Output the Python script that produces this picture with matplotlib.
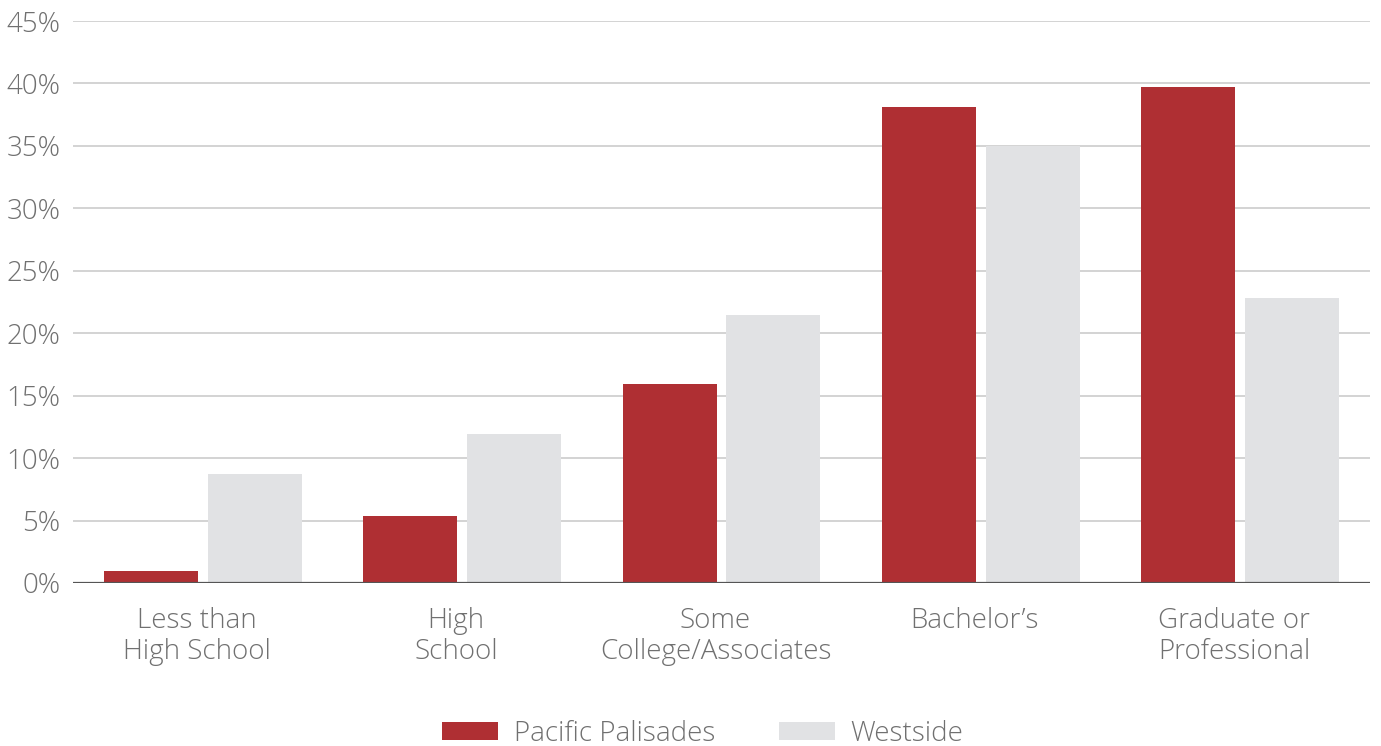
import numpy as np
import matplotlib.pyplot as plt
import matplotlib.transforms as mtransforms
from matplotlib.ticker import FuncFormatter

categories = ["Less than\nHigh School", "High\nSchool", "Some\nCollege/Associates",
              "Bachelor\u2019s", "Graduate or\nProfessional"]
palisades = [1.0, 5.4, 15.9, 38.1, 39.7]
westside = [8.7, 11.9, 21.5, 35.0, 22.8]
yticks = [0, 5, 10, 15, 20, 25, 30, 35, 40, 45]

red = "#af2f33"
grey = "#e1e2e4"
text_col = "#707070"

plt.rcParams['font.family'] = ['Open Sans', 'DejaVu Sans']
plt.rcParams['font.weight'] = 'light'

fig = plt.figure(figsize=(13.81, 7.46), dpi=100)
ax = fig.add_axes([0.0529, 0.2185, 0.9391, 0.7533])

x = np.arange(len(categories))
w = 0.362
ax.bar(x - 0.2, palisades, w, color=red, label="Pacific Palisades", zorder=3)
ax.bar(x + 0.2, westside, w, color=grey, label="Westside", zorder=3)

ax.set_xlim(-0.5, len(categories) - 0.5)
ax.set_ylim(0, 45)
ax.set_yticks(yticks)
ax.yaxis.set_major_formatter(FuncFormatter(lambda v, p: f"{v:.0f}%"))
ax.set_xticks(x)
ax.set_xticklabels(categories, linespacing=1.17)

for s in ax.spines.values():
    s.set_visible(False)
ax.grid(axis='y', color="#cccccc", linewidth=1.2, zorder=0)
ax.axhline(0, color="#555555", linewidth=1.6, zorder=4)
ax.tick_params(axis='both', length=0, labelsize=20, labelcolor=text_col)
ax.tick_params(axis='y', pad=9)
ax.tick_params(axis='x', pad=17)

# category labels sit a few pixels left of the group centre
shift = mtransforms.ScaledTranslation(-6 / 100, 0, fig.dpi_scale_trans)
for lab in ax.get_xticklabels():
    lab.set_transform(lab.get_transform() + shift)

fig.legend(loc='lower center', bbox_to_anchor=(0.509, -0.036), ncol=2, frameon=False,
           fontsize=20, labelcolor=text_col, handlelength=2.0, handleheight=0.58,
           handletextpad=0.58, columnspacing=2.3)

fig.savefig("out.png", dpi=100)
